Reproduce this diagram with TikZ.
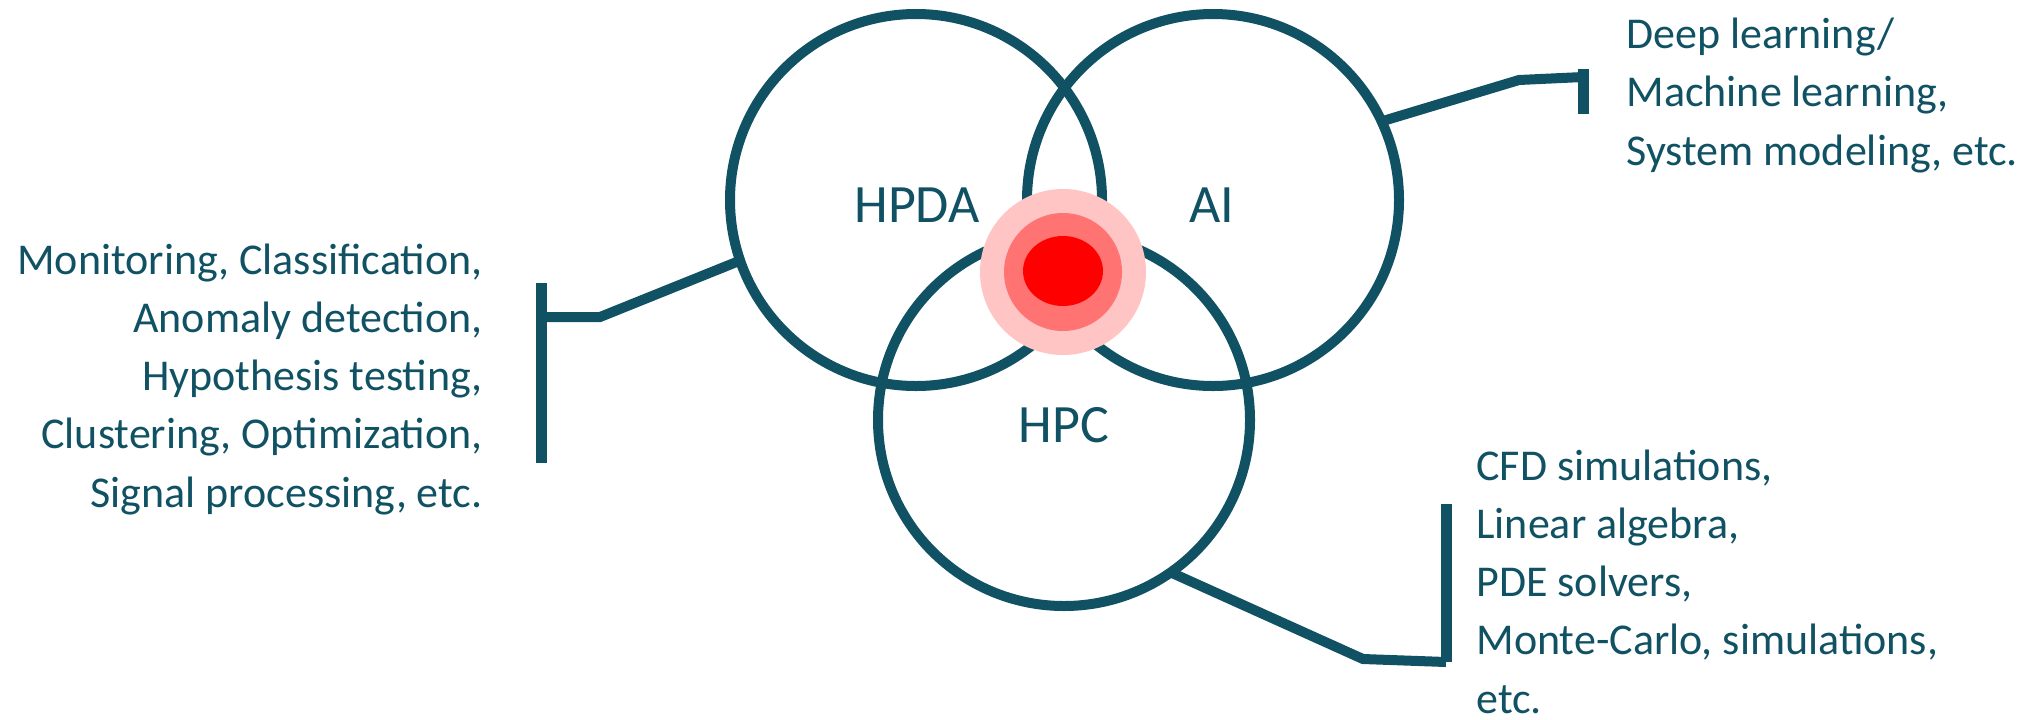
\documentclass[tikz,border=0pt]{standalone}
\usepackage{fontspec}
\setmainfont{Carlito}
\usetikzlibrary{shapes.geometric}
\definecolor{hpeteal}{HTML}{105263}
\definecolor{pinkA}{HTML}{FFC4C4}
\definecolor{pinkB}{HTML}{FF7373}
\definecolor{pinkC}{HTML}{FF0000}
\begin{document}
\begin{tikzpicture}[x=0.5pt,y=-0.5pt,
  ring/.style={circle, draw=hpeteal, line width=5pt, minimum size=186pt, inner sep=0pt, outer sep=0pt},
  conn/.style={draw=hpeteal, line width=5pt, line join=miter},
  bar/.style={draw=hpeteal, line width=5.5pt},
  lbl/.style={text=hpeteal, font=\fontsize{27}{30}\selectfont, inner sep=0pt},
  side/.style={text=hpeteal, font=\fontsize{22}{29.1}\selectfont, inner sep=0pt},
  spot/.style={circle, inner sep=0pt, outer sep=0pt}]
\useasboundingbox (0,0) rectangle (2037,719);
% rings
\node[ring] (hpda) at (916,200) {};
\node[ring] (ai) at (1213,200) {};
\node[ring] (hpc) at (1064,420) {};
% target
\node[spot, fill=pinkA, minimum size=83pt] (t1) at (1063,272) {};
\node[spot, fill=pinkB, minimum size=59pt] (t2) at (1063,272) {};
\node[ellipse, fill=pinkC, inner sep=0pt, minimum width=40pt, minimum height=35pt] (t3) at (1063,271) {};
% labels
\node[lbl, anchor=base] (lhpda) at (917,222) {HPDA};
\node[lbl, anchor=base] (lai) at (1212,222) {AI};
\node[lbl, anchor=base] (lhpc) at (1064,442) {HPC};
% side texts (base anchor = last line's baseline)
\node[side, anchor=base east, align=right] (tleft) at (483,507)
  {Monitoring, Classification,\\Anomaly detection,\\Hypothesis testing,\\Clustering, Optimization,\\Signal processing, etc.};
\node[side, anchor=base west, align=left] (tright) at (1626,165)
  {Deep learning/\\Machine learning,\\System modeling, etc.};
\node[side, anchor=base west, align=left] (tbottom) at (1476,713)
  {CFD simulations,\\Linear algebra,\\PDE solvers,\\Monte-Carlo, simulations,\\etc.};
% connectors
\coordinate (lk) at (600,317);
\coordinate (lb) at (541,317);
\coordinate (ltop) at (541,283);
\coordinate (lbot) at (541,463);
\draw[conn] (hpda.199.4) -- (lk) -- (lb);
\draw[bar] (ltop) -- (lbot);
\coordinate (rk) at (1519,80);
\coordinate (rb) at (1583,77);
\coordinate (rtop) at (1583,69);
\coordinate (rbot) at (1583,114);
\draw[conn] (ai.25.2) -- (rk) -- (rb);
\draw[bar] (rtop) -- (rbot);
\coordinate (bk) at (1363,659);
\coordinate (bb) at (1446,662);
\coordinate (btop) at (1446,504);
\draw[conn] (hpc.-55.5) -- (bk) -- (bb);
\draw[bar] (btop) -- (bb);
\end{tikzpicture}
\end{document}
